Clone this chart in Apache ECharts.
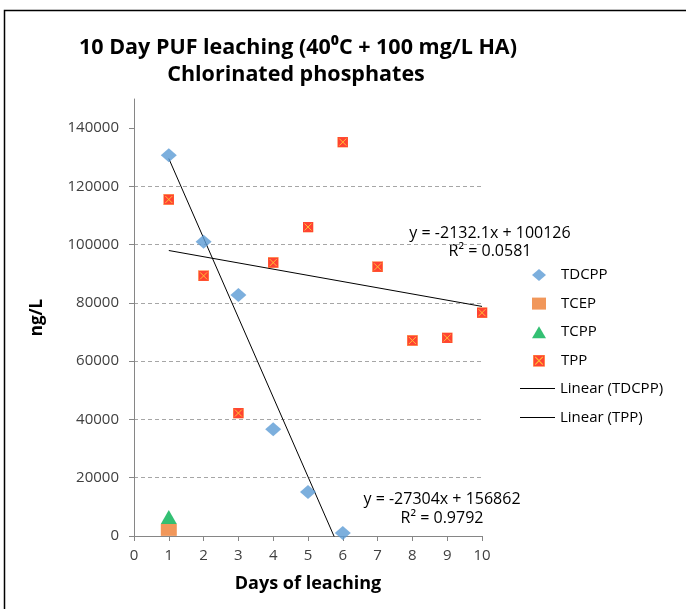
<!DOCTYPE html>
<html>
<head>
<meta charset="utf-8">
<script src="https://cdn.jsdelivr.net/npm/echarts@6/dist/echarts.min.js"></script>
<style>
  html, body { margin: 0; padding: 0; background: #fff; }
  #chart { width: 686px; height: 609px; }
</style>
</head>
<body>
<div id="chart"></div>
<script>
// Leaching concentrations (ng/L) per day
const days = [1, 2, 3, 4, 5, 6, 7, 8, 9, 10];
const tdcppDays = [1, 2, 3, 4, 5, 6];
const tdcppValues = [130700, 101000, 82700, 36650, 15100, 1000];
const tcepDays = [1];
const tcepValues = [2100];
const tcppDays = [1];
const tcppValues = [6550];
const tppValues = [115500, 89300, 42200, 93850, 106050, 135200, 92400, 67100, 68000, 76650];

// Linear trendlines: [slope, intercept, R²]
const tdcppFit = [-27304, 156862, 0.9792];
const tppFit = [-2132.1, 100126, 0.0581];

// Axis ticks
const xTicks = [0, 1, 2, 3, 4, 5, 6, 7, 8, 9, 10];
const yTicks = [0, 20000, 40000, 60000, 80000, 100000, 120000, 140000];

const FONT = '"Open Sans", "Liberation Sans", sans-serif';

const tppIcon = 'image://data:image/svg+xml;utf8,' + encodeURIComponent(
  '<svg xmlns="http://www.w3.org/2000/svg" width="22" height="22" viewBox="0 0 22 22">' +
  '<rect x="0.5" y="0.5" width="21" height="21" fill="#ff1500" stroke="#ff7a00" stroke-width="1"/>' +
  '<path d="M4,4L18,18M18,4L4,18" stroke="#ffb000" stroke-width="2"/></svg>');

function zip(xs, ys) { return xs.map((x, i) => [x, ys[i]]); }
function fitLine(fit, x0, x1) {
  return [[x0, fit[0] * x0 + fit[1]], [x1, fit[0] * x1 + fit[1]]];
}
function fmtFit(fit) {
  const sign = fit[1] >= 0 ? '+ ' : '- ';
  return 'y = ' + fit[0] + 'x ' + sign + Math.abs(fit[1]) + '\nR² = ' + fit[2].toFixed(4);
}

const chart = echarts.init(document.getElementById('chart'), null, { renderer: 'canvas' });

const legendText = { fontFamily: FONT, fontSize: 15, color: '#000', lineHeight: 16 };

chart.setOption({
  animation: false,
  backgroundColor: '#ffffff',
  textStyle: { fontFamily: FONT },
  grid: { left: 134, right: 204, top: 99, bottom: 73, containLabel: false },
  xAxis: {
    type: 'value',
    min: xTicks[0],
    max: xTicks[xTicks.length - 1],
    interval: 1,
    name: 'Days of leaching',
    nameLocation: 'middle',
    nameGap: 39,
    nameTextStyle: { fontFamily: FONT, fontSize: 18, fontWeight: 'bold', color: '#000' },
    axisLine: { lineStyle: { color: '#868686', width: 1 } },
    axisTick: { show: true, inside: false, length: 5, lineStyle: { color: '#868686' } },
    axisLabel: { margin: 12, fontSize: 15, color: '#404040', fontFamily: FONT },
    splitLine: { show: false }
  },
  yAxis: {
    type: 'value',
    min: 0,
    max: 150000,
    interval: 20000,
    name: 'ng/L',
    nameLocation: 'middle',
    nameRotate: 90,
    nameGap: 88,
    nameTextStyle: { fontFamily: FONT, fontSize: 17, fontWeight: 'bold', color: '#000' },
    axisLine: { show: true, lineStyle: { color: '#868686', width: 1 } },
    axisTick: { show: true, inside: false, length: 5, customValues: yTicks, lineStyle: { color: '#868686' } },
    axisLabel: {
      margin: 15, fontSize: 15, color: '#404040', fontFamily: FONT,
      customValues: yTicks,
      formatter: v => String(v)
    },
    splitLine: {
      show: true,
      showMaxLine: false,
      showMinLine: false,
      lineStyle: { color: '#a6a6a6', type: [4, 3], width: 1 }
    }
  },
  legend: [
    {
      orient: 'vertical',
      padding: 0,
      left: 532,
      top: 267,
      itemWidth: 14,
      itemHeight: 12,
      itemGap: 12.6,
      textStyle: Object.assign({ padding: [0, 0, 0, 10] }, legendText),
      data: ['TDCPP', 'TCEP', 'TCPP', 'TPP']
    },
    {
      orient: 'vertical',
      padding: 0,
      left: 520,
      top: 380.5,
      itemWidth: 35,
      itemHeight: 1,
      itemGap: 13,
      textStyle: legendText,
      data: [
        { name: 'Linear (TDCPP)', icon: 'rect' },
        { name: 'Linear (TPP)', icon: 'rect' }
      ]
    }
  ],
  series: [
    {
      name: 'TDCPP',
      type: 'scatter',
      symbol: 'diamond',
      symbolSize: [16, 14],
      itemStyle: { color: '#5b9bd5' },
      data: zip(tdcppDays, tdcppValues),
      z: 3
    },
    {
      name: 'TCEP',
      type: 'scatter',
      symbol: 'rect',
      symbolSize: [16, 12],
      itemStyle: { color: '#ed7d31' },
      data: zip(tcepDays, tcepValues),
      z: 3
    },
    {
      name: 'TCPP',
      type: 'scatter',
      symbol: 'triangle',
      symbolSize: [16, 14],
      itemStyle: { color: '#00b050' },
      data: zip(tcppDays, tcppValues),
      z: 4
    },
    {
      name: 'TPP',
      type: 'scatter',
      symbol: tppIcon,
      symbolSize: 11,
      itemStyle: { color: '#ff1500' },
      data: zip(days, tppValues),
      z: 3
    },
    {
      name: 'Linear (TDCPP)',
      type: 'line',
      symbol: 'none',
      clip: true,
      lineStyle: { color: '#000', width: 1 },
      itemStyle: { color: '#000' },
      data: fitLine(tdcppFit, tdcppDays[0], tdcppDays[tdcppDays.length - 1]),
      z: 2
    },
    {
      name: 'Linear (TPP)',
      type: 'line',
      symbol: 'none',
      clip: true,
      lineStyle: { color: '#000', width: 1 },
      itemStyle: { color: '#000' },
      data: fitLine(tppFit, days[0], days[days.length - 1]),
      z: 2
    }
  ],
  graphic: [
    {
      type: 'rect',
      silent: true,
      shape: { x: 4.5, y: 10.5, width: 800, height: 700 },
      style: { fill: null, stroke: '#000', lineWidth: 1.5 }
    },
    {
      type: 'text',
      silent: true,
      style: {
        x: 298, y: 48,
        text: '10 Day PUF leaching (40⁰C + 100 mg/L HA)',
        textAlign: 'center', textVerticalAlign: 'middle',
        font: 'bold 21.5px ' + FONT, fill: '#000'
      }
    },
    {
      type: 'text',
      silent: true,
      style: {
        x: 296, y: 75,
        text: 'Chlorinated phosphates',
        textAlign: 'center', textVerticalAlign: 'middle',
        font: 'bold 21.5px ' + FONT, fill: '#000'
      }
    },
    {
      type: 'text',
      silent: true,
      style: {
        x: 490, y: 242,
        text: fmtFit(tppFit),
        textAlign: 'center', textVerticalAlign: 'middle',
        lineHeight: 18,
        font: '16px ' + FONT, fill: '#000'
      }
    },
    {
      type: 'text',
      silent: true,
      style: {
        x: 442, y: 509,
        text: fmtFit(tdcppFit),
        textAlign: 'center', textVerticalAlign: 'middle',
        lineHeight: 19,
        font: '16px ' + FONT, fill: '#000'
      }
    }
  ]
});
</script>
</body>
</html>
